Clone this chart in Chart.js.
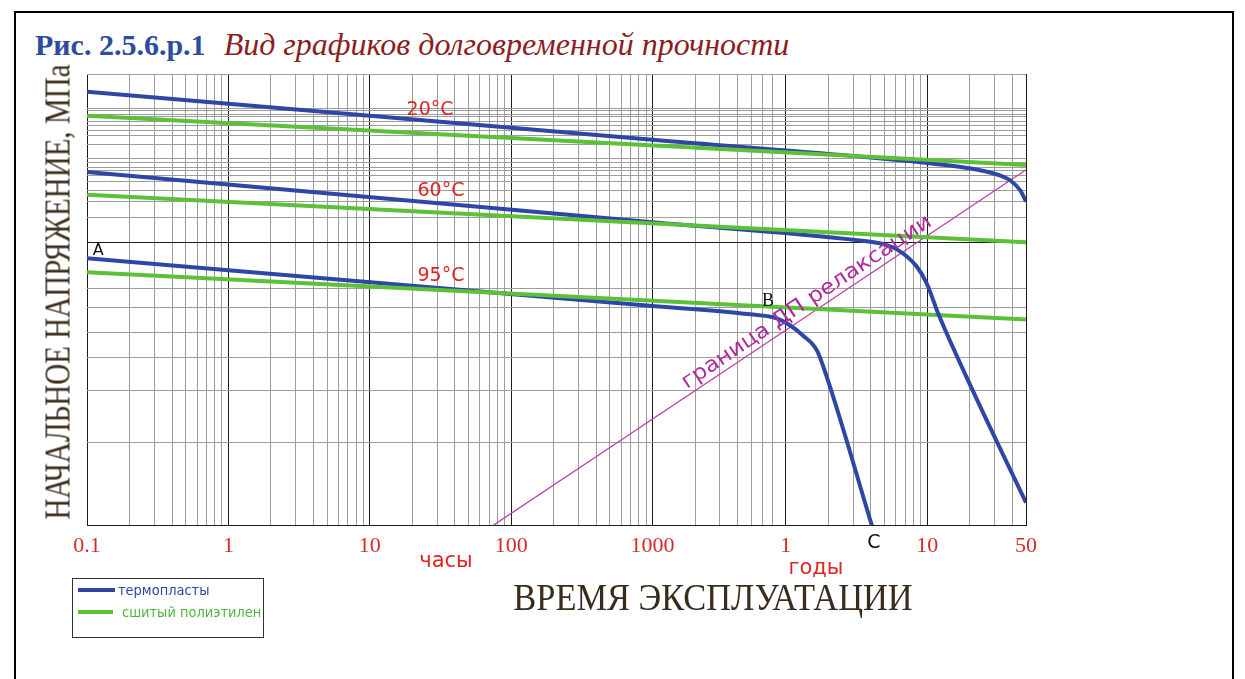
<!DOCTYPE html>
<html>
<head>
<meta charset="utf-8">
<script src="https://cdn.jsdelivr.net/npm/chart.js@4.4.1/dist/chart.umd.min.js"></script>
<style>
  body { margin: 0; background: #fff; width: 1245px; height: 679px; overflow: hidden; position: relative; }
  #frame { position: absolute; left: 14px; top: 11px; width: 1216px; height: 720px; border: 2px solid #000; }
  #title { position: absolute; left: 35px; top: 28px; font-family: "Liberation Serif", serif; line-height: 1; white-space: nowrap; }
  #title b { color: #2c4d9c; font-size: 30px; }
  #title i { color: #8c1d1d; margin-left: 18px; font-size: 32px; }
  #chart { position: absolute; left: 0; top: 0; }
  .axisTitle { position: absolute; font-family: "Liberation Serif", serif; color: #3a2c1c; white-space: nowrap; line-height: 1; }
  #xTitle { left: 713px; top: 578px; font-size: 38px; transform: translateX(-50%) scaleX(0.905); }
  #yTitle { left: 58px; top: 292px; font-size: 35px; transform: translate(-50%, -50%) rotate(-90deg) scaleX(0.83); }
  #legendBox { position: absolute; left: 72px; top: 578px; width: 190px; height: 58px; border: 1.5px solid #333; }
  .sw { position: absolute; height: 4px; }
  .lg { position: absolute; font-family: "DejaVu Sans", sans-serif; font-size: 14px; line-height: 1; white-space: nowrap; transform-origin: 0 0; transform: scaleX(0.93); }
</style>
</head>
<body>
<div id="frame"></div>
<div id="title"><b>Рис. 2.5.6.р.1</b><i>Вид графиков долговременной прочности</i></div>
<canvas id="chart" width="1245" height="679"></canvas>
<div id="yTitle" class="axisTitle">НАЧАЛЬНОЕ НАПРЯЖЕНИЕ, МПа</div>
<div id="xTitle" class="axisTitle">ВРЕМЯ ЭКСПЛУАТАЦИИ</div>
<div id="legendBox"></div>
<div class="sw" style="left:78px;top:588px;width:37px;background:#2e46a6"></div>
<div class="lg" style="left:118px;top:583px;color:#2e46a6">термопласты</div>
<div class="sw" style="left:78px;top:610px;width:35px;background:#5cc038"></div>
<div class="lg" style="left:122px;top:605px;color:#4cb83a">сшитый полиэтилен</div>
<script>
// time in hours (1 year = 8760 h), stress in MPa, log-log
const blue20Hours  = [0.1, 1000, 100000, 200000, 290000, 340000, 400000, 438000];
const blue20Stress = [23.5, 17.9, 15.6, 15.1, 14.6, 14.2, 13.4, 12.6];
const green20Hours  = [0.1, 438000];
const green20Stress = [20.5, 15.5];

const blue60Hours  = [0.1, 1000, 29300, 42600, 53500, 74100, 87200, 104300, 184500, 438000];
const blue60Stress = [14.9, 11.2, 10.1, 9.9, 9.6, 8.7, 7.9, 6.7, 4.3, 2.28];
const green60Hours  = [0.1, 438000];
const green60Stress = [13.1, 10.0];

const blue95Hours  = [0.1, 1000, 4884, 7583, 9370, 11580, 14540, 17120, 35610];
const blue95Stress = [9.13, 6.96, 6.64, 6.49, 6.24, 5.89, 5.41, 4.64, 2.0];
const green95Hours  = [0.1, 438000];
const green95Stress = [8.43, 6.45];

const boundaryHours  = [74.3, 438000];
const boundaryStress = [2.0, 15.1];

const xTickHours = [0.1, 1, 10, 100, 1000, 8760, 87600, 438000];
const xTickText  = ['0.1', '1', '10', '100', '1000', '1', '10', '50'];
const yGridStress = [2, 3.2, 4.3, 5.2, 6.0, 6.9, 7.7, 10, 11.5, 12.6, 13.4, 14.1, 14.6, 15.0, 15.3,
                     15.7, 16.1, 17.4, 18.3, 18.9, 19.45, 19.9, 20.4, 20.7, 21.1, 21.4, 26];
const yMajor = [2, 10];

const tempLabels = ['20°C', '60°C', '95°C'];
const tempLabelHours = [26.7, 31.9, 31.9];
const tempLabelStress = [21.2, 13.4, 8.24];

const BLUE = '#2e46a6';
const GREEN = '#5cc038';

// grid: 2..9 inside each hour decade, hours up to 7000, then years
const xGrid = [];
[0.1, 1, 10, 100].forEach(d => {
  for (let k = 1; k <= 9; k++) xGrid.push(Number((d * k).toPrecision(6)));
});
for (let k = 1; k <= 7; k++) xGrid.push(1000 * k);
[1, 2, 3, 4, 5, 6, 7, 8, 9, 10, 20, 30, 40, 50].forEach(yr => xGrid.push(yr * 8760));

function pts(xs, ys) { return xs.map((x, i) => ({ x: x, y: ys[i] })); }
function isNear(v, arr) { return arr.some(a => Math.abs(v - a) / a < 1e-6); }

function line(data, color, width) {
  return {
    data: data, borderColor: color, backgroundColor: color, borderWidth: width,
    pointRadius: 0, showLine: true, cubicInterpolationMode: 'monotone', fill: false
  };
}

function txt(ctx, s, x, y, font, color, align, base) {
  ctx.font = font;
  ctx.fillStyle = color;
  ctx.textAlign = align || 'center';
  ctx.textBaseline = base || 'middle';
  ctx.fillText(s, x, y);
}

const annotations = {
  id: 'annotations',
  afterDatasetsDraw(chart) {
    const ctx = chart.ctx;
    const xs = chart.scales.x, ys = chart.scales.y;
    const bottom = chart.chartArea.bottom;
    ctx.save();
    tempLabels.forEach((t, i) => {
      txt(ctx, t, xs.getPixelForValue(tempLabelHours[i]), ys.getPixelForValue(tempLabelStress[i]),
        '19px "DejaVu Sans"', '#e02424');
    });
    txt(ctx, 'A', xs.getPixelForValue(0.12), ys.getPixelForValue(9.5), '16px "DejaVu Sans"', '#111');
    txt(ctx, 'B', xs.getPixelForValue(6546), ys.getPixelForValue(7.15), '18px "Liberation Serif"', '#111');
    txt(ctx, 'C', xs.getPixelForValue(36790), bottom + 17, '19px "DejaVu Sans"', '#111');
    txt(ctx, 'часы', xs.getPixelForValue(34.6), bottom + 36, '21px "DejaVu Sans"', '#e02424');
    txt(ctx, 'годы', xs.getPixelForValue(14300), bottom + 43, '21px "DejaVu Sans"', '#e02424');

    // label along the relaxation boundary line
    const x0 = xs.getPixelForValue(boundaryHours[0]), y0 = ys.getPixelForValue(boundaryStress[0]);
    const x1 = xs.getPixelForValue(boundaryHours[1]), y1 = ys.getPixelForValue(boundaryStress[1]);
    const t = 0.37;
    ctx.translate(x0 + (x1 - x0) * t, y0 + (y1 - y0) * t);
    ctx.rotate(Math.atan2(y1 - y0, x1 - x0));
    ctx.translate(0, -6);
    ctx.font = '21px "DejaVu Sans"';
    const label = 'граница ДП релаксации';
    const w = ctx.measureText(label).width;
    ctx.scale(296 / w, 1);
    ctx.fillStyle = '#b02c9c';
    ctx.textAlign = 'left';
    ctx.textBaseline = 'alphabetic';
    ctx.fillText(label, 0, 0);
    ctx.restore();
  }
};

new Chart(document.getElementById('chart'), {
  type: 'scatter',
  data: {
    datasets: [
      line(pts(green20Hours, green20Stress), GREEN, 4),
      line(pts(blue20Hours, blue20Stress), BLUE, 4),
      line(pts(green60Hours, green60Stress), GREEN, 4),
      line(pts(blue60Hours, blue60Stress), BLUE, 4),
      line(pts(green95Hours, green95Stress), GREEN, 4),
      line(pts(blue95Hours, blue95Stress), BLUE, 4),
      line(pts(boundaryHours, boundaryStress), '#c23aa8', 1.2)
    ]
  },
  options: {
    responsive: false,
    animation: false,
    layout: { padding: { left: 87, top: 74, right: 219, bottom: 113 } },
    plugins: { legend: { display: false }, tooltip: { enabled: false } },
    scales: {
      x: {
        type: 'logarithmic', min: 0.1, max: 438000,
        afterBuildTicks: (scale) => { scale.ticks = xGrid.map(v => ({ value: v })); },
        border: { display: false },
        grid: {
          drawTicks: false, lineWidth: 1,
          color: (c) => (c.tick && isNear(c.tick.value, xTickHours)) ? '#1c1c1c' : '#9d9d9d'
        },
        ticks: {
          autoSkip: false, maxRotation: 0, minRotation: 0, padding: 7,
          color: '#d42a2a', font: { family: 'Liberation Serif', size: 22 },
          callback: (v) => {
            const i = xTickHours.findIndex(a => Math.abs(v - a) / a < 1e-6);
            return i >= 0 ? xTickText[i] : '';
          }
        }
      },
      y: {
        type: 'logarithmic', min: 2, max: 26,
        afterBuildTicks: (scale) => { scale.ticks = yGridStress.map(v => ({ value: v })); },
        border: { display: false },
        grid: {
          drawTicks: false, lineWidth: 1,
          color: (c) => (c.tick && isNear(c.tick.value, yMajor)) ? '#1c1c1c' : '#9d9d9d'
        },
        ticks: { display: false }
      }
    }
  },
  plugins: [annotations]
});
</script>
</body>
</html>
